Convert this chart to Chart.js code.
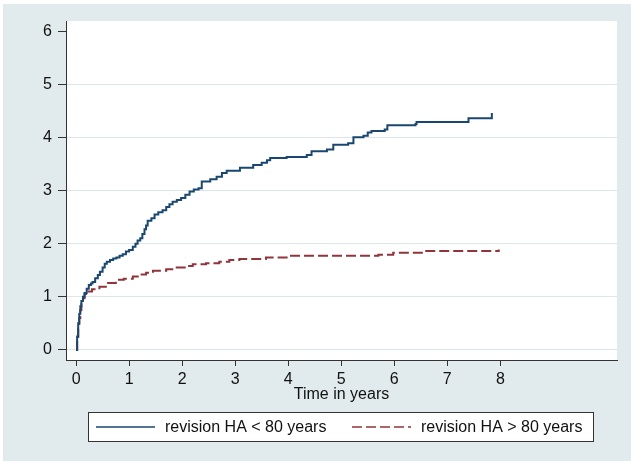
<!DOCTYPE html>
<html>
<head>
<meta charset="utf-8">
<script src="https://cdn.jsdelivr.net/npm/chart.js@4.4.1/dist/chart.umd.min.js"></script>
<style>
  body { margin: 0; background: #fff; }
  canvas { display: block; }
</style>
</head>
<body>
<canvas id="kmChart" width="631" height="461"></canvas>
<script>
// cumulative revision rate (%) against follow-up time (years)
var timeUnder80 = [0, 0.02, 0.04, 0.06, 0.08, 0.1, 0.13, 0.16, 0.2, 0.24, 0.28, 0.31, 0.36, 0.41, 0.45, 0.5,
                   0.54, 0.58, 0.64, 0.7, 0.76, 0.82, 0.88, 0.94, 1.0, 1.07, 1.12, 1.16, 1.21, 1.25, 1.29, 1.32,
                   1.35, 1.42, 1.48, 1.55, 1.63, 1.7, 1.76, 1.82, 1.9, 1.98, 2.06, 2.14, 2.22, 2.31, 2.37, 2.53,
                   2.65, 2.75, 2.84, 3.09, 3.34, 3.5, 3.6, 3.66, 3.97, 4.35, 4.44, 4.73, 4.85, 5.13, 5.23, 5.42,
                   5.5, 5.57, 5.82, 5.87, 6.4, 6.42, 7.4, 7.84];
var rateUnder80 = [0, 0.25, 0.5, 0.68, 0.82, 0.92, 1.0, 1.07, 1.15, 1.22, 1.25, 1.28, 1.35, 1.41, 1.47, 1.55,
                   1.62, 1.66, 1.69, 1.72, 1.74, 1.77, 1.8, 1.85, 1.88, 1.94, 2.0, 2.06, 2.1, 2.18, 2.27, 2.34,
                   2.43, 2.48, 2.55, 2.59, 2.63, 2.69, 2.74, 2.79, 2.82, 2.86, 2.92, 2.98, 3.02, 3.04, 3.17, 3.21,
                   3.26, 3.33, 3.37, 3.43, 3.48, 3.52, 3.57, 3.61, 3.63, 3.67, 3.74, 3.77, 3.86, 3.89, 4.0, 4.03,
                   4.09, 4.12, 4.15, 4.23, 4.25, 4.29, 4.36, 4.46];
var timeOver80  = [0, 0.02, 0.04, 0.06, 0.08, 0.1, 0.13, 0.16, 0.19, 0.3, 0.44, 0.6, 0.75, 0.9, 1.07, 1.2,
                   1.32, 1.45, 1.7, 1.85, 2.07, 2.2, 2.45, 2.7, 2.89, 3.08, 3.58, 3.97, 5.7, 5.98, 6.55, 7.97];
var rateOver80  = [0, 0.2, 0.4, 0.6, 0.75, 0.86, 0.97, 1.05, 1.1, 1.14, 1.19, 1.26, 1.32, 1.34, 1.38, 1.42,
                   1.45, 1.49, 1.52, 1.55, 1.58, 1.61, 1.63, 1.66, 1.69, 1.71, 1.74, 1.77, 1.79, 1.83, 1.86, 1.89];
var seriesLabels = ['revision HA < 80 years', 'revision HA > 80 years'];
var xTickValues  = [0, 1, 2, 3, 4, 5, 6, 7, 8];
var yTickValues  = [0, 1, 2, 3, 4, 5, 6];
var xTitle       = 'Time in years';

function toPoints(xs, ys) {
    return xs.map(function (x, i) { return { x: x, y: ys[i] }; });
}

Chart.defaults.font.family = "'Liberation Sans', Arial, sans-serif";
Chart.defaults.font.size = 16;
Chart.defaults.color = '#111';

var backdrop = {
    id: 'backdrop',
    beforeDraw: function (chart) {
        var ctx = chart.ctx, a = chart.chartArea;
        ctx.save();
        ctx.fillStyle = '#e1eaec';
        ctx.fillRect(3, 4, chart.width - 3, chart.height - 4);
        ctx.fillStyle = '#ffffff';
        ctx.fillRect(a.left, a.top, a.right - a.left, a.bottom - a.top);
        ctx.restore();
    }
};

// stata style legend: one framed row under the axis title
var boxedLegend = {
    id: 'boxedLegend',
    afterDraw: function (chart, args, opts) {
        var ctx = chart.ctx;
        var cy = opts.top + opts.height / 2;
        ctx.save();
        ctx.fillStyle = '#ffffff';
        ctx.fillRect(opts.left, opts.top, opts.width, opts.height);
        ctx.strokeStyle = '#333';
        ctx.lineWidth = 1;
        ctx.strokeRect(opts.left + 0.5, opts.top + 0.5, opts.width - 1, opts.height - 1);
        ctx.font = "16px 'Liberation Sans', Arial, sans-serif";
        ctx.textBaseline = 'middle';
        chart.data.datasets.forEach(function (ds, i) {
            var x = opts.itemX[i];
            ctx.strokeStyle = ds.borderColor;
            ctx.lineWidth = 1.5;
            ctx.setLineDash(ds.borderDash || []);
            ctx.beginPath();
            ctx.moveTo(x, cy);
            ctx.lineTo(x + opts.lineLength, cy);
            ctx.stroke();
            ctx.setLineDash([]);
            ctx.fillStyle = '#111';
            ctx.fillText(ds.label, x + opts.lineLength + 10, cy + 1);
        });
        ctx.restore();
    }
};

var ctxK = document.getElementById('kmChart').getContext('2d');
var kmChart = new Chart(ctxK, {
    type: 'line',
    data: {
        datasets: [{
            label: seriesLabels[0],
            data: toPoints(timeUnder80, rateUnder80),
            borderColor: '#1a476f',
            borderWidth: 2,
            stepped: true,
            pointRadius: 0
        }, {
            label: seriesLabels[1],
            data: toPoints(timeOver80, rateOver80),
            borderColor: '#90353b',
            borderWidth: 2,
            borderDash: [10, 4],
            stepped: true,
            pointRadius: 0
        }]
    },
    options: {
        responsive: false,
        animation: false,
        layout: { padding: { left: 0, right: 14, top: 21, bottom: 58 } },
        scales: {
            x: {
                type: 'linear',
                min: -0.19,
                max: 10.2,
                afterBuildTicks: function (scale) {
                    scale.ticks = xTickValues.map(function (v) { return { value: v }; });
                },
                afterFit: function (scale) { scale.height = 43; },
                grid: { drawOnChartArea: false, tickLength: 6, tickColor: '#333' },
                border: { color: '#333', width: 1 },
                ticks: { padding: 6, maxRotation: 0, font: { size: 16, lineHeight: 1 } },
                title: { display: true, text: xTitle, padding: 0, font: { size: 16, lineHeight: 1 } }
            },
            y: {
                min: -0.19,
                max: 6.19,
                afterBuildTicks: function (scale) {
                    scale.ticks = yTickValues.map(function (v) { return { value: v }; });
                },
                afterFit: function (scale) { scale.width = 66; },
                grid: {
                    color: function (c) { return c.tick && c.tick.value === 6 ? 'rgba(0,0,0,0)' : '#dce7ea'; },
                    tickColor: '#333',
                    tickLength: 8
                },
                border: { color: '#333', width: 1 },
                ticks: { padding: 6, font: { size: 16, lineHeight: 1 } }
            }
        },
        plugins: {
            legend: { display: false },
            tooltip: { enabled: false },
            boxedLegend: { left: 88, top: 412, width: 506, height: 30, itemX: [96, 352], lineLength: 59 }
        }
    },
    plugins: [backdrop, boxedLegend]
});
</script>
</body>
</html>
